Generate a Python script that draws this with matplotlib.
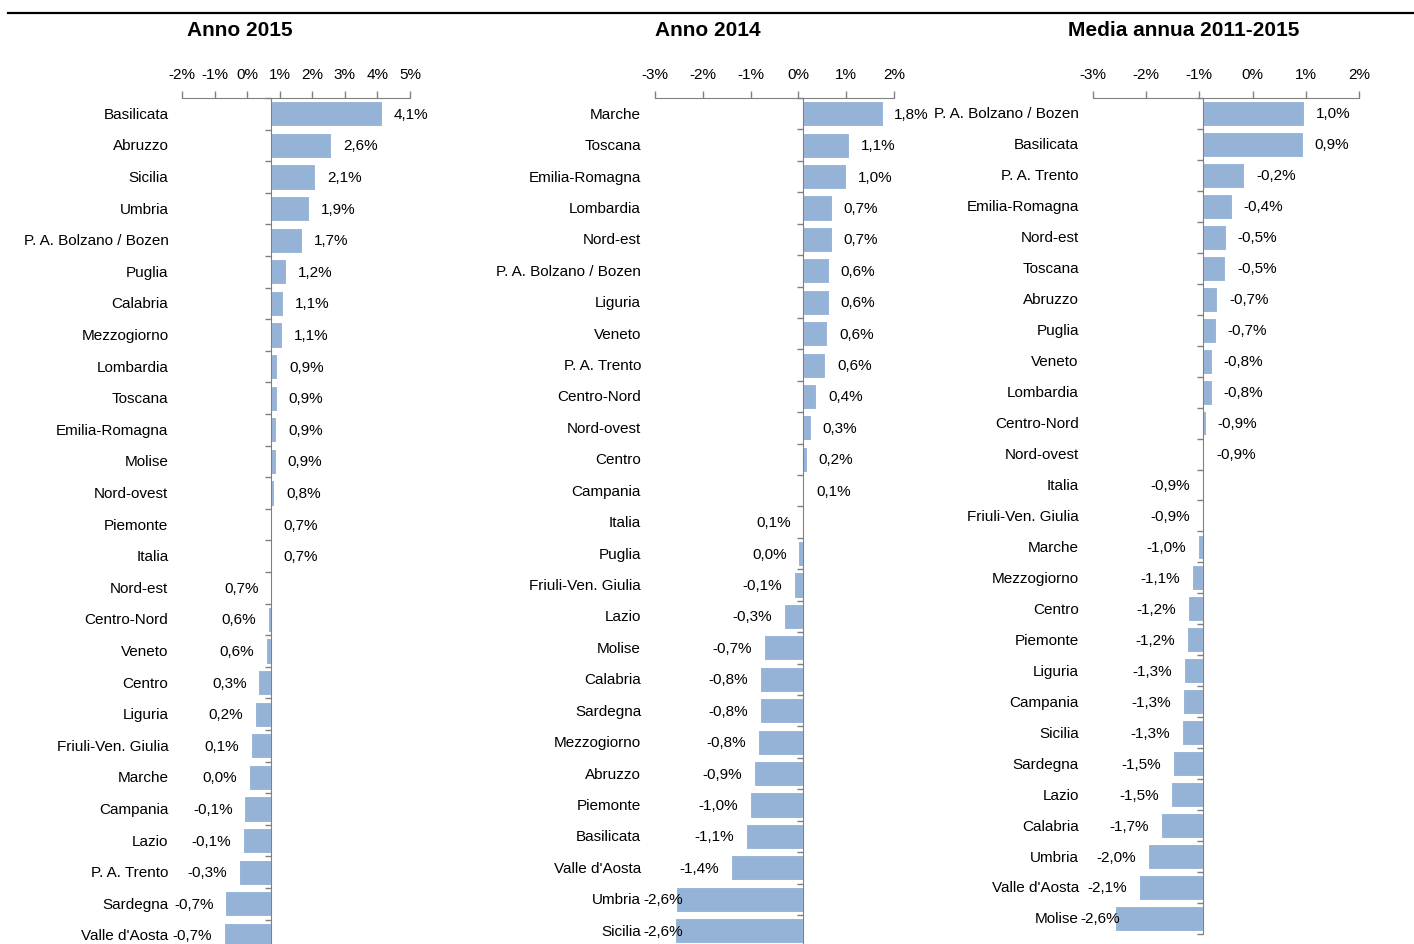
import matplotlib
matplotlib.use('Agg')
import matplotlib.pyplot as plt
import numpy as np
from matplotlib import font_manager
from matplotlib.lines import Line2D
from matplotlib.ticker import FuncFormatter

# Arial Narrow look-alike if there is one, else plain Liberation Sans a bit smaller
ttf = font_manager.fontManager.ttflist
names = {f.name for f in ttf}
if 'Liberation Sans Narrow' in names:
    FAM, FS = 'Liberation Sans Narrow', 12
elif 'Arial Narrow' in names:
    FAM, FS = 'Arial Narrow', 12
else:
    FAM, FS = 'Liberation Sans', 11
plt.rcParams['font.family'] = [FAM, 'DejaVu Sans']

# Anno 2015
cat_2015 = ['Basilicata', 'Abruzzo', 'Sicilia', 'Umbria', 'P. A. Bolzano / Bozen', 'Puglia',
            'Calabria', 'Mezzogiorno', 'Lombardia', 'Toscana', 'Emilia-Romagna', 'Molise',
            'Nord-ovest', 'Piemonte', 'Italia', 'Nord-est', 'Centro-Nord', 'Veneto', 'Centro',
            'Liguria', 'Friuli-Ven. Giulia', 'Marche', 'Campania', 'Lazio', 'P. A. Trento',
            'Sardegna', "Valle d'Aosta"]
val_2015 = [4.14, 2.58, 2.09, 1.91, 1.69, 1.20, 1.11, 1.08, 0.92, 0.91, 0.89, 0.88, 0.83, 0.74,
            0.73, 0.71, 0.64, 0.58, 0.34, 0.22, 0.12, 0.04, -0.09, -0.14, -0.26, -0.68, -0.73]
cross_2015 = 0.72

# Anno 2014
cat_2014 = ['Marche', 'Toscana', 'Emilia-Romagna', 'Lombardia', 'Nord-est', 'P. A. Bolzano / Bozen',
            'Liguria', 'Veneto', 'P. A. Trento', 'Centro-Nord', 'Nord-ovest', 'Centro', 'Campania',
            'Italia', 'Puglia', 'Friuli-Ven. Giulia', 'Lazio', 'Molise', 'Calabria', 'Sardegna',
            'Mezzogiorno', 'Abruzzo', 'Piemonte', 'Basilicata', "Valle d'Aosta", 'Umbria', 'Sicilia']
val_2014 = [1.76, 1.06, 0.99, 0.70, 0.70, 0.64, 0.63, 0.60, 0.56, 0.37, 0.26, 0.17, 0.12, 0.09,
            0.00, -0.10, -0.31, -0.72, -0.80, -0.80, -0.84, -0.93, -1.01, -1.09, -1.41, -2.56, -2.58]
cross_2014 = 0.10

# Media annua 2011-2015
cat_media = ['P. A. Bolzano / Bozen', 'Basilicata', 'P. A. Trento', 'Emilia-Romagna', 'Nord-est',
             'Toscana', 'Abruzzo', 'Puglia', 'Veneto', 'Lombardia', 'Centro-Nord', 'Nord-ovest',
             'Italia', 'Friuli-Ven. Giulia', 'Marche', 'Mezzogiorno', 'Centro', 'Piemonte', 'Liguria',
             'Campania', 'Sicilia', 'Sardegna', 'Lazio', 'Calabria', 'Umbria', "Valle d'Aosta", 'Molise']
val_media = [0.96, 0.94, -0.16, -0.39, -0.50, -0.51, -0.66, -0.69, -0.77, -0.77, -0.88, -0.91,
             -0.945, -0.95, -1.02, -1.14, -1.21, -1.24, -1.29, -1.31, -1.32, -1.50, -1.53, -1.72,
             -1.96, -2.14, -2.58]
cross_media = -0.94

titles = ['Anno 2015', 'Anno 2014', 'Media annua 2011-2015']
xlims = [(-2, 5), (-3, 2), (-3, 2)]

W, H = 1414, 945
BAR = '#95B3D7'
GRAY = '#808080'

# pixel layout: left, right, top, row height, title centre
boxes = [(182.3, 410.0, 99, 31.6, 240),
         (655.0, 894.0, 99, 31.42, 708),
         (1092.7, 1359.3, 99, 30.96, 1184)]

fig = plt.figure(figsize=(W / 100, H / 100), dpi=100)
fig.add_artist(Line2D([0.006, 1.0], [1 - 13.5 / H] * 2, color='black', lw=1.6))

pct = FuncFormatter(lambda x, pos: '{}%'.format(int(round(x))))
fmt = lambda v: '{:.1f}%'.format(v).replace('.', ',')

data = [(cat_2015, val_2015, cross_2015), (cat_2014, val_2014, cross_2014),
        (cat_media, val_media, cross_media)]

left_labels = []
for (cats, vals, cross), title, xl, (l, r, top, row, tx) in zip(data, titles, xlims, boxes):
    n = len(cats)
    h = n * row
    ax = fig.add_axes([l / W, 1 - (top + h) / H, (r - l) / W, h / H])
    y = np.arange(n)
    ax.barh(y, [v - cross for v in vals], left=cross, height=0.8, color=BAR,
            edgecolor='white', linewidth=0.8, zorder=2)
    ax.set_xlim(*xl)
    ax.set_ylim(n - 0.5, -0.5)

    ax.xaxis.tick_top()
    ax.set_xticks(range(xl[0], xl[1] + 1))
    ax.xaxis.set_major_formatter(pct)
    ax.tick_params(axis='x', direction='out', length=5, width=1, color=GRAY,
                   labelsize=FS, pad=7)
    ax.set_yticks(np.arange(-0.5, n, 1))
    ax.tick_params(axis='y', direction='out', length=4, width=1, color=GRAY, labelleft=False)

    for s in ['bottom', 'right']:
        ax.spines[s].set_visible(False)
    ax.spines['top'].set_color(GRAY)
    ax.spines['left'].set_color(GRAY)
    ax.spines['left'].set_position(('data', cross))
    ax.spines['left'].set_zorder(3)

    for i, (c, v) in enumerate(zip(cats, vals)):
        ax.annotate(c, xy=(0, i), xycoords=('axes fraction', 'data'), xytext=(-10, 0),
                    textcoords='offset points', ha='right', va='center', fontsize=FS)
        if v > cross:
            ax.annotate(fmt(v), xy=(v, i), xytext=(8.5, 0), textcoords='offset points',
                        ha='left', va='center', fontsize=FS, annotation_clip=False)
        else:
            t = ax.annotate(fmt(v), xy=(v, i), xytext=(-8.5, 0), textcoords='offset points',
                            ha='right', va='center', fontsize=FS, annotation_clip=False)
            left_labels.append((t, l))

    fig.text(tx / W, 1 - 30 / H, title, ha='center', va='center', fontsize=15,
             fontweight='bold', family=['Liberation Sans', 'DejaVu Sans'])

# keep labels from running out past the plot area on the left
fig.canvas.draw()
rend = fig.canvas.get_renderer()
for t, l in left_labels:
    bb = t.get_window_extent(rend)
    if bb.x0 < l - 12:
        dx = (l - 12 - bb.x0) * 72 / 100
        ox, oy = t.xyann
        t.xyann = (ox + dx, oy)

fig.savefig('out.png', dpi=100)
